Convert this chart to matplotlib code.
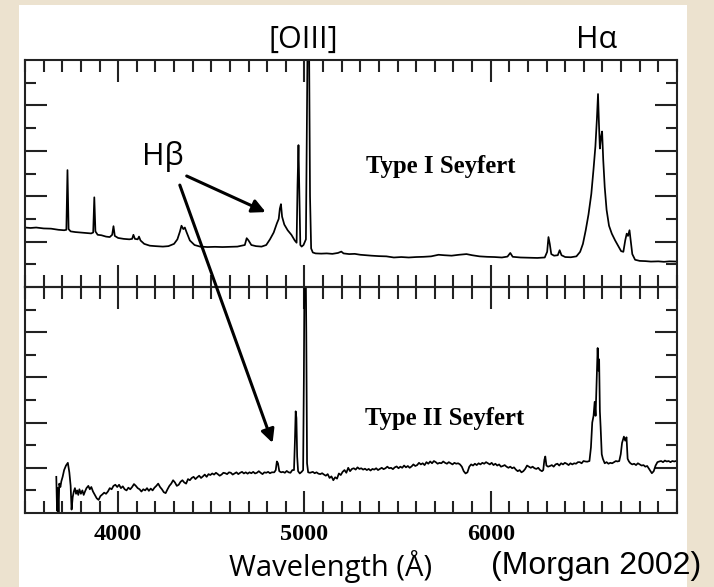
import matplotlib
matplotlib.use("Agg")
import matplotlib.pyplot as plt
from matplotlib.patches import Rectangle
from matplotlib.ticker import FixedLocator, MultipleLocator
from matplotlib.transforms import blended_transform_factory

# ---- spectra (observed wavelength in Angstrom, relative flux) ----
type1_wave = [
    3500, 3530, 3560, 3600, 3640, 3680, 3710, 3722, 3728, 3734, 3745, 3770, 3800, 3830,
    3855, 3866, 3872, 3878, 3890, 3910, 3935, 3955, 3968, 3975, 3982, 4000, 4030, 4060,
    4075, 4082, 4090, 4105, 4112, 4120, 4140, 4170, 4200, 4240, 4270, 4300, 4318, 4332,
    4340, 4350, 4358, 4368, 4385, 4410, 4440, 4480, 4520, 4560, 4600, 4640, 4680, 4690,
    4700, 4715, 4740, 4770, 4795, 4815, 4835, 4852, 4862, 4868, 4874, 4880, 4892, 4910,
    4930, 4948, 4958, 4963, 4968, 4973, 4978, 4985, 4995, 5008, 5014, 5018, 5024, 5030,
    5036, 5045, 5060, 5090, 5120, 5150, 5180, 5198, 5210, 5240, 5270, 5300, 5330, 5360,
    5400, 5440, 5480, 5520, 5560, 5600, 5640, 5680, 5720, 5750, 5790, 5830, 5870, 5900,
    5940, 5980, 6020, 6060, 6090, 6105, 6118, 6160, 6200, 6250, 6290, 6303, 6310, 6317,
    6325, 6340, 6360, 6370, 6380, 6400, 6430, 6460, 6480, 6495, 6510, 6525, 6540, 6552,
    6562, 6570, 6576, 6581, 6586, 6592, 6598, 6604, 6612, 6622, 6635, 6650, 6668, 6685,
    6700, 6712, 6722, 6730, 6737, 6745, 6752, 6760, 6775, 6800, 6830, 6860, 6900, 6930,
    6960, 7000,
]
type1_flux = [
    2.62, 2.60, 2.62, 2.58, 2.57, 2.52, 2.50, 2.52, 5.15, 2.55, 2.45, 2.42, 2.40, 2.38,
    2.36, 2.40, 3.95, 2.45, 2.30, 2.28, 2.22, 2.20, 2.30, 2.68, 2.25, 2.16, 2.12, 2.10,
    2.12, 2.30, 2.12, 2.10, 2.22, 2.05, 1.90, 1.82, 1.80, 1.78, 1.80, 1.90, 2.10, 2.45,
    2.70, 2.55, 2.62, 2.40, 2.05, 1.85, 1.78, 1.76, 1.77, 1.76, 1.77, 1.78, 1.85, 2.15,
    2.05, 1.85, 1.80, 1.78, 1.85, 2.10, 2.40, 2.80, 3.00, 3.45, 3.65, 3.10, 2.75, 2.50,
    2.30, 2.05, 1.95, 4.50, 6.25, 4.00, 1.85, 1.78, 1.85, 2.10, 8.00, 12.0, 12.0, 4.00,
    1.70, 1.52, 1.48, 1.47, 1.48, 1.46, 1.50, 1.56, 1.48, 1.45, 1.46, 1.42, 1.40, 1.38,
    1.36, 1.35, 1.30, 1.32, 1.30, 1.32, 1.33, 1.35, 1.42, 1.40, 1.38, 1.42, 1.45, 1.40,
    1.35, 1.33, 1.32, 1.30, 1.34, 1.50, 1.33, 1.30, 1.29, 1.28, 1.30, 1.55, 2.20, 1.90,
    1.45, 1.38, 1.40, 1.62, 1.40, 1.32, 1.31, 1.35, 1.55, 1.90, 2.50, 3.20, 4.10, 5.20,
    6.20, 7.40, 8.50, 7.20, 6.10, 6.60, 6.85, 5.60, 4.40, 3.40, 2.70, 2.35, 2.05, 1.80,
    1.58, 1.55, 2.05, 2.35, 2.25, 2.50, 2.00, 1.45, 1.20, 1.15, 1.14, 1.12, 1.13, 1.11,
    1.13, 1.12,
]

type2_wave = [
    3668, 3672, 3676, 3680, 3684, 3690, 3695, 3702, 3710, 3720, 3730, 3738, 3745, 3750,
    3756, 3762, 3768, 3774, 3780, 3786, 3792, 3800, 3808, 3815, 3822, 3830, 3840, 3848,
    3856, 3865, 3875, 3885, 3895, 3905, 3915, 3925, 3935, 3945, 3955, 3965, 3975, 3985,
    3995, 4005, 4015, 4025, 4035, 4045, 4055, 4065, 4075, 4085, 4095, 4105, 4115, 4125,
    4135, 4145, 4155, 4165, 4175, 4185, 4195, 4205, 4215, 4225, 4235, 4245, 4255, 4265,
    4275, 4285, 4295, 4305, 4315, 4325, 4335, 4345, 4355, 4365, 4375, 4385, 4395, 4405,
    4415, 4425, 4435, 4445, 4455, 4465, 4475, 4485, 4495, 4505, 4515, 4525, 4535, 4545,
    4555, 4565, 4575, 4585, 4595, 4605, 4615, 4625, 4635, 4645, 4655, 4665, 4675, 4685,
    4695, 4705, 4715, 4725, 4735, 4745, 4755, 4765, 4775, 4785, 4795, 4805, 4815, 4825,
    4838, 4846, 4852, 4858, 4865, 4875, 4885, 4895, 4905, 4915, 4925, 4935, 4944, 4949,
    4953, 4957, 4961, 4966, 4975, 4985, 4993, 4997, 5001, 5006, 5010, 5014, 5020, 5030,
    5045, 5055, 5065, 5075, 5085, 5095, 5105, 5115, 5125, 5135, 5145, 5155, 5165, 5175,
    5185, 5195, 5205, 5215, 5225, 5235, 5245, 5255, 5265, 5275, 5285, 5295, 5305, 5315,
    5325, 5335, 5345, 5355, 5365, 5375, 5385, 5395, 5405, 5415, 5425, 5435, 5445, 5455,
    5465, 5475, 5485, 5495, 5505, 5515, 5525, 5535, 5545, 5555, 5565, 5575, 5585, 5595,
    5605, 5615, 5625, 5635, 5645, 5655, 5665, 5675, 5685, 5695, 5705, 5715, 5725, 5735,
    5745, 5755, 5765, 5775, 5785, 5795, 5805, 5815, 5825, 5835, 5845, 5855, 5865, 5875,
    5885, 5895, 5905, 5915, 5925, 5935, 5945, 5955, 5965, 5975, 5985, 5995, 6005, 6015,
    6025, 6035, 6045, 6055, 6065, 6075, 6085, 6095, 6105, 6115, 6125, 6135, 6145, 6155,
    6165, 6175, 6185, 6195, 6205, 6215, 6225, 6235, 6245, 6255, 6265, 6275, 6282, 6288,
    6293, 6299, 6308, 6318, 6328, 6338, 6348, 6358, 6368, 6378, 6388, 6398, 6408, 6418,
    6428, 6438, 6448, 6458, 6468, 6478, 6488, 6498, 6508, 6518, 6530, 6538, 6545, 6552,
    6558, 6563, 6568, 6574, 6578, 6582, 6586, 6590, 6596, 6602, 6612, 6622, 6632, 6642,
    6652, 6662, 6672, 6680, 6690, 6698, 6705, 6715, 6722, 6729, 6735, 6742, 6750, 6760,
    6770, 6780, 6790, 6800, 6810, 6820, 6830, 6840, 6850, 6858, 6865, 6875, 6885, 6895,
    6905, 6915, 6925, 6935, 6945, 6955, 6965, 6975, 6985, 6995,
]
type2_flux = [
    1.60, 0.10, 1.10, 0.00, 1.30, 1.15, 1.40, 1.60, 1.90, 2.10, 2.22, 1.80, 1.20, 0.15,
    0.70, 0.95, 1.10, 0.85, 1.00, 0.80, 1.05, 0.85, 1.00, 0.80, 0.95, 1.10, 1.20, 1.05,
    1.15, 0.95, 0.80, 0.65, 0.58, 0.75, 0.82, 0.90, 0.85, 0.95, 1.10, 1.05, 1.20, 1.25,
    1.15, 1.25, 1.10, 1.18, 1.05, 1.00, 1.12, 1.05, 1.15, 1.28, 1.20, 1.10, 1.05, 0.95,
    1.05, 1.00, 1.10, 0.98, 1.08, 1.00, 1.12, 1.20, 1.30, 1.15, 1.05, 0.92, 0.88, 1.05,
    1.20, 1.30, 1.45, 1.35, 1.20, 1.25, 1.38, 1.45, 1.35, 1.30, 1.50, 1.45, 1.55, 1.60,
    1.50, 1.58, 1.65, 1.55, 1.62, 1.70, 1.60, 1.72, 1.68, 1.75, 1.70, 1.78, 1.72, 1.65,
    1.70, 1.78, 1.76, 1.72, 1.80, 1.78, 1.70, 1.75, 1.80, 1.72, 1.78, 1.82, 1.75, 1.80,
    1.74, 1.80, 1.76, 1.82, 1.75, 1.78, 1.85, 1.78, 1.72, 1.80, 1.78, 1.82, 1.76, 1.80,
    1.80, 1.90, 2.28, 2.20, 1.85, 1.80, 1.82, 1.78, 1.86, 1.80, 1.78, 1.90, 1.90, 3.20,
    4.50, 4.20, 2.50, 1.85, 1.75, 1.82, 1.90, 6.00, 12.0, 12.0, 8.00, 2.20, 1.80, 1.78,
    1.82, 1.76, 1.80, 1.74, 1.72, 1.76, 1.70, 1.65, 1.72, 1.55, 1.62, 1.45, 1.58, 1.52,
    1.75, 1.68, 1.82, 1.90, 1.78, 2.00, 1.85, 1.95, 1.98, 1.92, 2.02, 1.95, 1.98, 1.92,
    1.96, 1.90, 1.95, 1.88, 1.95, 1.92, 1.98, 1.90, 1.95, 2.00, 1.94, 1.98, 2.05, 1.98,
    2.00, 1.94, 2.02, 2.06, 1.98, 2.05, 2.00, 2.10, 2.02, 2.08, 2.00, 2.06, 2.15, 2.08,
    2.12, 2.22, 2.15, 2.20, 2.12, 2.25, 2.18, 2.28, 2.20, 2.30, 2.25, 2.18, 2.22, 2.20,
    2.28, 2.22, 2.18, 2.25, 2.20, 2.15, 2.22, 2.18, 2.20, 2.15, 2.05, 1.85, 1.75, 1.80,
    2.05, 2.15, 2.10, 2.18, 2.12, 2.20, 2.15, 2.22, 2.18, 2.25, 2.20, 2.15, 2.22, 2.12,
    2.18, 2.10, 2.15, 2.05, 2.08, 2.12, 2.05, 2.00, 2.05, 1.98, 2.02, 1.92, 1.85, 1.90,
    1.80, 1.85, 1.95, 2.10, 2.05, 2.00, 2.05, 1.98, 1.95, 2.00, 1.90, 1.85, 1.90, 2.35,
    2.50, 2.10, 2.05, 2.08, 2.12, 2.05, 2.15, 2.18, 2.10, 2.20, 2.15, 2.22, 2.18, 2.12,
    2.20, 2.15, 2.20, 2.18, 2.25, 2.25, 2.20, 2.30, 2.28, 2.27, 2.30, 2.90, 4.00, 4.30,
    4.92, 4.30, 5.60, 7.30, 6.30, 6.80, 4.50, 3.80, 2.60, 2.40, 2.20, 2.25, 2.18, 2.22,
    2.20, 2.25, 2.30, 2.28, 2.30, 2.60, 3.10, 3.38, 3.20, 3.35, 2.40, 2.28, 2.20, 2.15,
    2.18, 2.12, 2.20, 2.15, 2.10, 2.12, 2.05, 2.08, 1.95, 1.85, 1.76, 1.85, 2.10, 2.25,
    2.28, 2.30, 2.25, 2.32, 2.28, 2.30, 2.25, 2.30, 2.28, 2.30,
]

# axis ranges and tick marks
wave_range = (3500, 7000)
flux_range = (0, 10)
wave_ticks = [4000, 5000, 6000]
wave_tick_labels = ["4000", "5000", "6000"]
flux_major = [2, 4, 6, 8]
flux_minor = [1, 3, 5, 7, 9]

W, H = 714, 587
fig = plt.figure(figsize=(W / 100, H / 100), dpi=100)
fig.patch.set_facecolor("#ECE2CF")

# white slide card behind the plot
fig.add_artist(Rectangle((19 / W, 0), (687 - 19) / W, (H - 5) / H,
                         transform=fig.transFigure, facecolor="white",
                         edgecolor="none", zorder=0))

left, right = 25 / W, 677 / W
ax_top = fig.add_axes([left, (H - 287) / H, right - left, 227 / H])
ax_bot = fig.add_axes([left, (H - 513) / H, right - left, 226 / H])

serif = "Liberation Serif"
for ax in (ax_top, ax_bot):
    ax.set_facecolor("none")
    ax.set_xlim(*wave_range)
    ax.set_ylim(*flux_range)
    ax.xaxis.set_major_locator(FixedLocator(wave_ticks))
    ax.xaxis.set_minor_locator(MultipleLocator(100))
    ax.yaxis.set_major_locator(FixedLocator(flux_major))
    ax.yaxis.set_minor_locator(FixedLocator(flux_minor))
    ax.tick_params(which="both", direction="in", top=True, bottom=True,
                   left=True, right=True, width=1.5, color="#222222")
    ax.tick_params(which="major", length=16)
    ax.tick_params(which="minor", length=8.5)
    ax.tick_params(axis="y", which="major", length=16)
    ax.tick_params(axis="y", which="minor", length=8)
    ax.set_yticklabels([])
    for s in ax.spines.values():
        s.set_linewidth(1.5)
        s.set_color("#222222")

ax_top.set_xticklabels([])
ax_bot.set_xticklabels(wave_tick_labels, fontfamily=serif, fontweight="bold",
                       fontsize=17.5)
ax_bot.tick_params(axis="x", which="major", pad=8)

ax_top.plot(type1_wave, type1_flux, color="black", lw=1.25)
ax_bot.plot(type2_wave, type2_flux, color="black", lw=1.25)

# panel captions
ax_top.text(5730, 5.29, "Type I Seyfert", fontfamily=serif, fontweight="bold",
            fontsize=17.8, ha="center", va="center")
ax_bot.text(5750, 4.16, "Type II Seyfert", fontfamily=serif, fontweight="bold",
            fontsize=17.8, ha="center", va="center")

# line identifications above the upper panel
sans = ["Open Sans", "DejaVu Sans"]
top_tr = blended_transform_factory(ax_top.transData, ax_top.transAxes)
ax_top.text(4995, 1.09, "[OIII]", transform=top_tr, fontfamily=sans,
            fontsize=22, ha="center", va="center")
ax_top.text(6566, 1.09, "H\u03b1", transform=top_tr, fontfamily=sans,
            fontsize=22, ha="center", va="center")

# H-beta label with arrows pointing to the line in both spectra
ax_top.text(4240, 5.73, "H\u03b2", fontfamily=sans, fontsize=22,
            ha="center", va="center")
arrow = dict(arrowstyle="-|>", lw=2.2, color="black", mutation_scale=20,
             shrinkA=0, shrinkB=0)
ax_top.annotate("", xy=(4792, 3.3), xytext=(4368, 4.89), arrowprops=arrow,
                annotation_clip=False)
ax_bot.annotate("", xy=(4829, 3.1), xytext=(4331, 4.49),
                textcoords=ax_top.transData, arrowprops=arrow,
                annotation_clip=False)

# axis title and source credit
ax_bot.set_xlabel("Wavelength (\u00c5)", fontfamily=sans, fontsize=21)
ax_bot.xaxis.set_label_coords(0.469, -0.235)
ax_bot.xaxis.label.set_va("center")
fig.text(596 / W, 1 - 566 / H, "(Morgan 2002)", fontfamily="Liberation Sans",
         fontsize=23, ha="center", va="center")

fig.savefig("out.png", dpi=100, facecolor=fig.get_facecolor())
